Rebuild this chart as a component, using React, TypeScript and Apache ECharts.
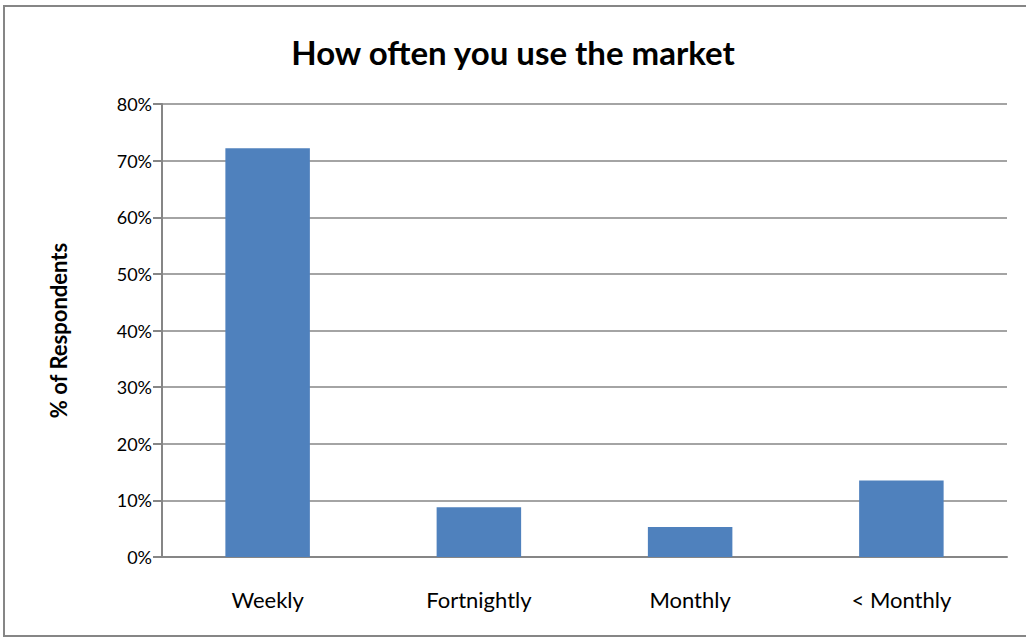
import React, { useEffect, useRef } from "react";
import * as echarts from "echarts";

const categories = ["Weekly", "Fortnightly", "Monthly", "< Monthly"];
const values = [72.2, 8.8, 5.3, 13.5];
const yTicks = [0, 10, 20, 30, 40, 50, 60, 70, 80];

export default function App() {
  const ref = useRef<HTMLDivElement>(null);
  useEffect(() => {
    document.body.style.margin = "0";
    const chart = echarts.init(ref.current!, null, { renderer: "svg" });
    const font = "Lato, 'Open Sans', sans-serif";
    chart.setOption({
      animation: false,
      backgroundColor: "#ffffff",
      title: {
        text: "How often you use the market",
        left: "center",
        top: 30,
        textStyle: { fontFamily: font, fontSize: 33, fontWeight: "bold", color: "#000" },
      },
      graphic: [
        {
          type: "rect",
          shape: { x: 4, y: 6, width: 1040, height: 630 },
          style: { fill: "none", stroke: "#868686", lineWidth: 2 },
          z: -1,
        },
      ],
      grid: { left: 162, right: 19, top: 104, bottom: 82 },
      xAxis: {
        type: "category",
        data: categories,
        axisLine: { lineStyle: { color: "#868686", width: 2 } },
        axisTick: { show: false },
        axisLabel: { fontFamily: font, fontSize: 22, color: "#000", margin: 31 },
      },
      yAxis: {
        type: "value",
        min: yTicks[0],
        max: yTicks[yTicks.length - 1],
        interval: 10,
        name: "% of Respondents",
        nameLocation: "middle",
        nameGap: 93,
        nameTextStyle: { fontFamily: font, fontSize: 22, fontWeight: "bold", color: "#000" },
        axisLine: { show: true, lineStyle: { color: "#868686", width: 2 } },
        axisTick: { show: true, length: 9, lineStyle: { color: "#868686", width: 2 } },
        axisLabel: {
          fontFamily: font,
          fontSize: 18,
          color: "#000",
          margin: 10,
          formatter: (v: number) => v + "%",
        },
        splitLine: { lineStyle: { color: "#868686", width: 1.5 } },
      },
      series: [
        {
          type: "bar",
          data: values,
          barWidth: "40%",
          itemStyle: { color: "#4f81bd" },
        },
      ],
    });
    return () => chart.dispose();
  }, []);
  return <div ref={ref} style={{ position: "absolute", left: 0, top: 0, width: 1026, height: 639 }} />;
}
